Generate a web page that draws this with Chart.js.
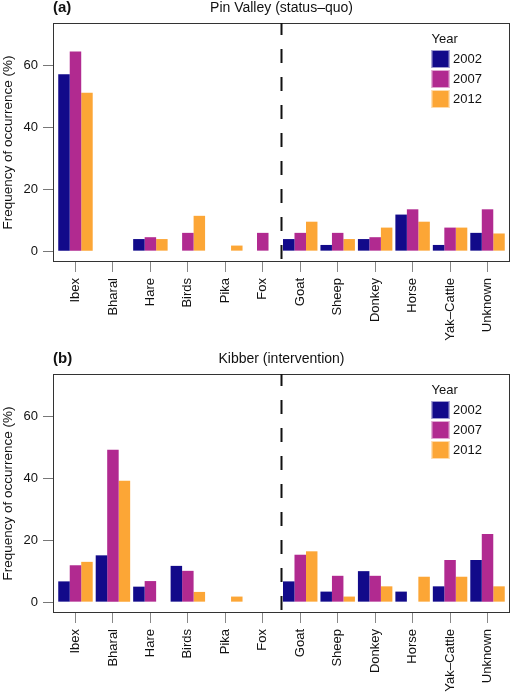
<!DOCTYPE html>
<html>
<head>
<meta charset="utf-8">
<script src="https://cdn.jsdelivr.net/npm/chart.js@4.4.1/dist/chart.umd.min.js"></script>
<style>
  html,body{margin:0;padding:0;background:#fff;}
  #wrap{position:relative;width:510px;height:694px;overflow:hidden;}
  canvas{position:absolute;left:0;}
  #c1{top:0;}
  #c2{top:351px;}
</style>
</head>
<body>
<div id="wrap">
  <canvas id="c1" width="510" height="345"></canvas>
  <canvas id="c2" width="510" height="343"></canvas>
</div>
<script>
/* global Chart */
// Two-panel grouped bar chart: frequency of occurrence of prey items by year.

const CATEGORIES = ["Ibex","Bharal","Hare","Birds","Pika","Fox","Goat","Sheep","Donkey","Horse","Yak\u2013Cattle","Unknown"];
const YEARS = ["2002","2007","2012"];
const COLORS = ["#120A8A","#B12A90","#FCA636"];
const Y_TICKS = [0,20,40,60];

// Pin Valley (status-quo)
const PIN_2002 = [57.1, 0, 3.9, 0, 0, 0, 3.9, 2.0, 3.9, 11.8, 2.0, 5.9];
const PIN_2007 = [64.4, 0, 4.5, 5.9, 0, 5.9, 5.9, 5.9, 4.5, 13.5, 7.6, 13.5];
const PIN_2012 = [51.1, 0, 3.9, 11.4, 1.8, 0, 9.5, 3.9, 7.6, 9.5, 7.6, 5.7];

// Kibber (intervention)
const KIB_2002 = [6.7, 15.1, 5.0, 11.7, 0, 0, 6.7, 3.4, 10.0, 3.4, 5.1, 13.6];
const KIB_2007 = [11.9, 49.2, 6.8, 10.1, 0, 0, 15.3, 8.5, 8.5, 0, 13.6, 22.0];
const KIB_2012 = [13.0, 39.2, 0, 3.3, 1.8, 0, 16.4, 1.8, 5.1, 8.2, 8.2, 5.1];

const FONT = '"Liberation Sans", Arial, Helvetica, sans-serif';
Chart.defaults.font.family = FONT;
Chart.defaults.color = "#111";

// wild prey | livestock divider sits between Fox and Goat
const DIVIDER_AT = 5.5;

const decor = {
  id: "decor",
  afterDraw(chart, args, opts){
    const {ctx, chartArea:a} = chart;
    const x = chart.scales.x.getPixelForValue(DIVIDER_AT);
    ctx.save();
    // box
    ctx.strokeStyle = "#333"; ctx.lineWidth = 1;
    ctx.strokeRect(a.left+0.5, a.top+0.5, a.right-a.left-1, a.bottom-a.top-1);
    // dashed divider
    ctx.strokeStyle = "#111"; ctx.lineWidth = 2;
    ctx.setLineDash([14,14]); ctx.lineDashOffset = 2;
    ctx.beginPath(); ctx.moveTo(x, a.top); ctx.lineTo(x, a.bottom); ctx.stroke();
    ctx.setLineDash([]);
    // panel letter + title
    ctx.fillStyle = "#111"; ctx.textBaseline = "middle";
    ctx.font = "bold 15px " + FONT; ctx.textAlign = "left";
    ctx.fillText(opts.letter, a.left, 8);
    ctx.font = "14px " + FONT; ctx.textAlign = "center";
    ctx.fillText(opts.title, (a.left+a.right)/2, 8);
    // legend
    const lx = 431.5, ly = a.top + 16;
    ctx.font = "13px " + FONT; ctx.textAlign = "left";
    ctx.fillText("Year", lx, ly);
    chart.data.datasets.forEach((d,i)=>{
      const y = a.top + 27 + i*20;
      ctx.fillStyle = d.backgroundColor;
      ctx.fillRect(lx, y, 18, 18);
      ctx.strokeStyle = "rgba(255,255,255,0.6)"; ctx.lineWidth = 1;
      ctx.strokeRect(lx+0.5, y+0.5, 17, 17);
      ctx.fillStyle = "#111";
      ctx.fillText(d.label, lx+21.5, y+9.5);
    });
    ctx.restore();
  }
};

function makePanel(id, letter, title, series, xHeight){
  const datasets = series.map((vals,i)=>({
    label: YEARS[i],
    data: vals.map((v,j)=>({x:j, y:v})),
    backgroundColor: COLORS[i],
    borderWidth: 0,
    barPercentage: 1,
    categoryPercentage: 0.92
  }));
  return new Chart(document.getElementById(id), {
    type: "bar",
    data: {datasets},
    plugins: [decor],
    options: {
      responsive: false, animation: false,
      layout: {padding: {top: 23, left: 0, right: 0, bottom: 0}},
      plugins: {legend: {display: false}, tooltip: {enabled: false}, title: {display: false},
                decor: {letter, title}},
      scales: {
        x: {
          type: "linear", offset: false, min: -0.6, max: 11.6,
          afterBuildTicks: s => { s.ticks = CATEGORIES.map((c,i)=>({value:i})); },
          afterFit: s => { s.height = xHeight; },
          grid: {offset: false, drawOnChartArea: false, drawTicks: true, tickLength: 10, color: "#888"},
          border: {display: false},
          ticks: {autoSkip: false, minRotation: 90, maxRotation: 90, padding: 6,
                  font: {size: 13}, color: "#111", callback: v => CATEGORIES[v]}
        },
        y: {
          min: -3.5, max: 73.6,
          afterBuildTicks: s => { s.ticks = Y_TICKS.map(v=>({value:v})); },
          afterFit: s => { s.width = 53; },
          grid: {drawOnChartArea: false, drawTicks: true, tickLength: 10, color: "#777"},
          border: {display: false},
          ticks: {padding: 5, font: {size: 13}, color: "#111"},
          title: {display: true, text: "Frequency of occurrence (%)", font: {size: 13.5},
                  color: "#111", padding: {top: 0, bottom: 0}}
        }
      }
    }
  });
}

makePanel("c1", "(a)", "Pin Valley (status\u2013quo)", [PIN_2002, PIN_2007, PIN_2012], 83);
makePanel("c2", "(b)", "Kibber (intervention)", [KIB_2002, KIB_2007, KIB_2012], 81);
</script>
</body>
</html>
